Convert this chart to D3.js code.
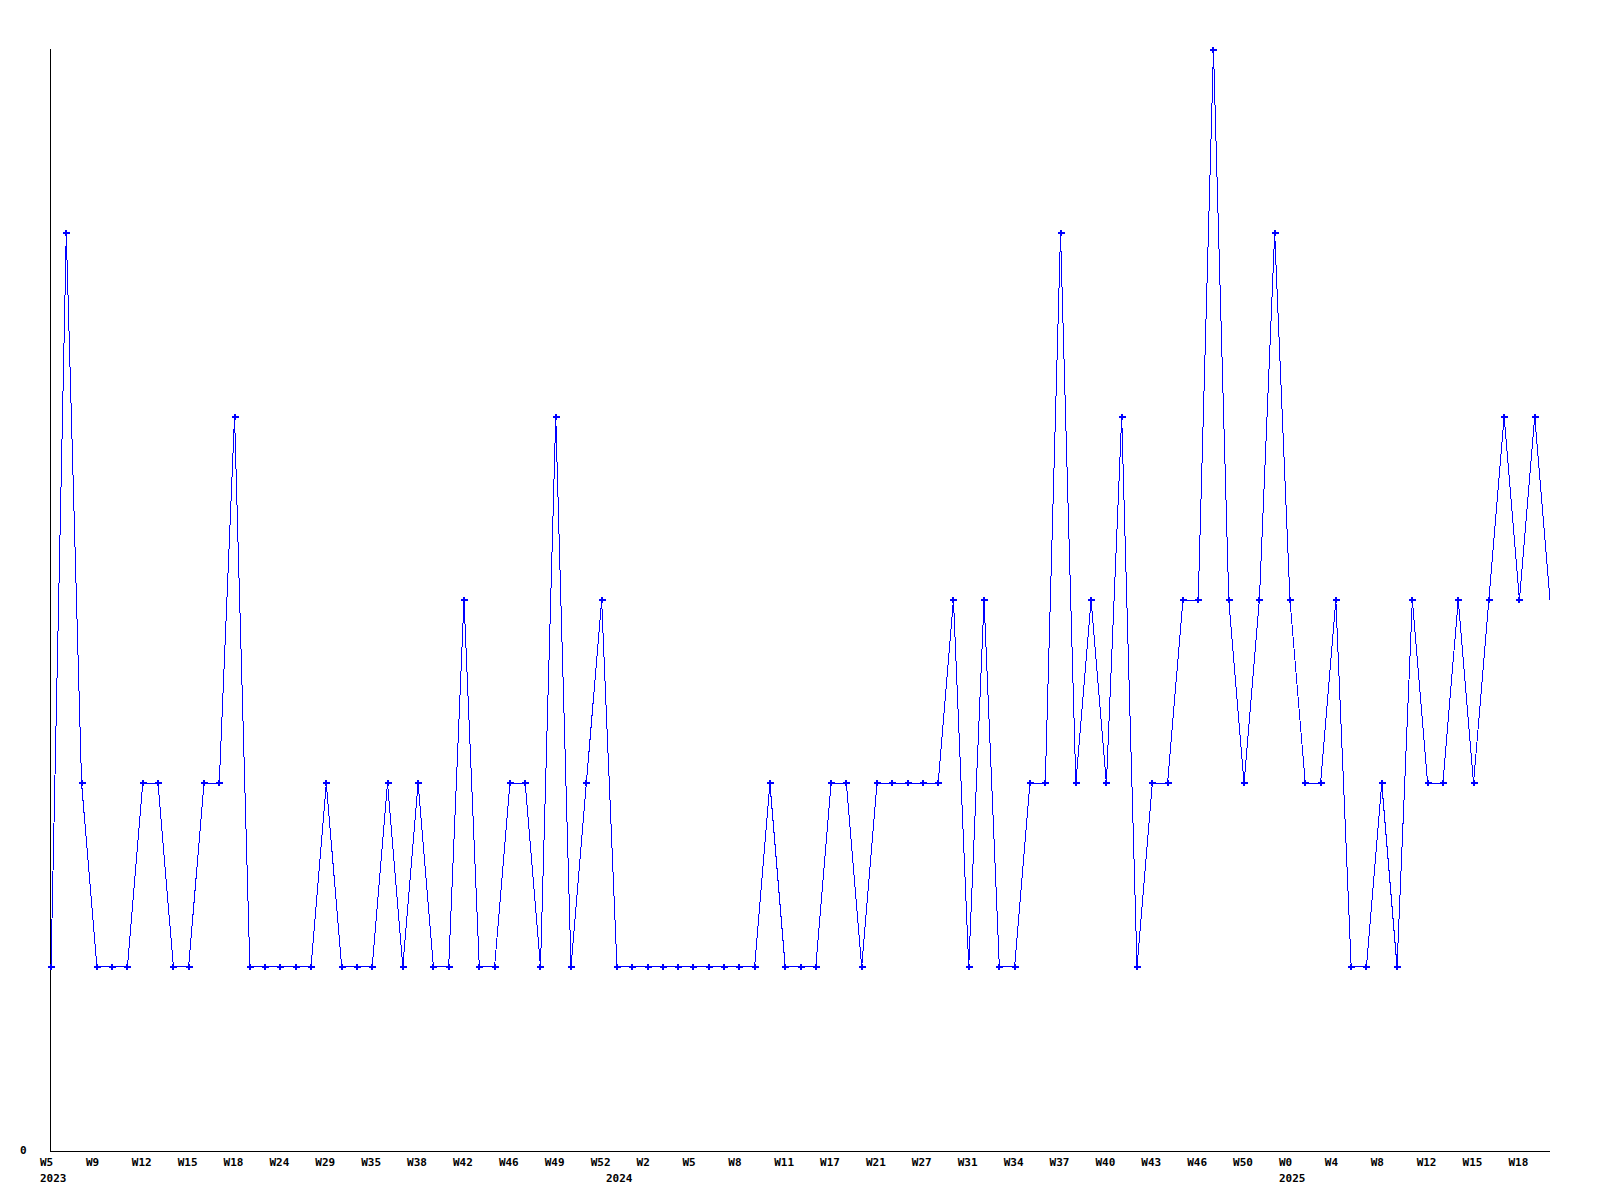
<!DOCTYPE html>
<html>
<head>
<meta charset="utf-8">
<script src="https://cdn.jsdelivr.net/npm/d3@7"></script>
<style>
  html, body { margin: 0; padding: 0; background: #ffffff; }
  svg text { font-family: "DejaVu Sans Mono", "Liberation Mono", monospace; font-weight: bold; font-size: 11px; fill: #000; }
</style>
</head>
<body>
<svg id="chart" width="1600" height="1200"></svg>
<script>
// ---- data ----
const values = [
  1,5,2,1,1,1,2,2,1,1,
  2,2,4,1,1,1,1,1,2,1,
  1,1,2,1,2,1,1,3,1,1,
  2,2,1,4,1,2,3,1,1,1,
  1,1,1,1,1,1,1,2,1,1,
  1,2,2,1,2,2,2,2,2,3,
  1,3,1,1,2,2,5,2,3,2,
  4,1,2,2,3,3,6,3,2,3,
  5,3,2,2,3,1,1,2,1,3,
  2,2,3,2,3,4,3,4,3
];
// one week label for every third sample
const tickLabels = ["W5","W9","W12","W15","W18","W24","W29","W35","W38","W42","W46","W49",
                    "W52","W2","W5","W8","W11","W17","W21","W27","W31","W34","W37","W40",
                    "W43","W46","W50","W0","W4","W8","W12","W15","W18"];
const tickEvery = 3;
const yearLabels = ["2023","2024","2025"];
const yearIndex = [0, 37, 81];
const yTickValues = [0];

// ---- layout ----
const svg = d3.select("#chart");
const x = d3.scaleLinear().domain([0, values.length - 1]).range([51, 1550]);
const y = d3.scaleLinear().domain([0, 6]).range([1150, 50]);

// axes lines
svg.append("line").attr("x1", 50.5).attr("x2", 50.5).attr("y1", 49).attr("y2", 1152)
   .attr("stroke", "#000").attr("stroke-width", 1);
svg.append("line").attr("x1", 50).attr("x2", 1550).attr("y1", 1151.5).attr("y2", 1151.5)
   .attr("stroke", "#000").attr("stroke-width", 1);

// y tick labels
svg.selectAll("text.ytick").data(yTickValues).join("text")
   .attr("class", "ytick")
   .attr("x", 20).attr("y", d => y(d) + 4)
   .text(d => d);

// x tick labels
svg.selectAll("text.xtick").data(tickLabels).join("text")
   .attr("class", "xtick")
   .attr("x", (d, i) => x(i * tickEvery) - 11)
   .attr("y", 1166)
   .text(d => d);

// year labels
svg.selectAll("text.year").data(yearLabels).join("text")
   .attr("class", "year")
   .attr("x", (d, i) => x(yearIndex[i]) - 11)
   .attr("y", 1182)
   .text(d => d);

// line
const line = d3.line().x((d, i) => x(i)).y(d => y(d));
svg.append("path").datum(values)
   .attr("d", line)
   .attr("fill", "none")
   .attr("stroke", "#0000ff")
   .attr("stroke-width", 1)
   .attr("shape-rendering", "crispEdges");

// markers (the last, incomplete sample has none)
const markers = svg.append("g").attr("fill", "#0000ff").attr("shape-rendering", "crispEdges");
values.slice(0, -1).forEach((v, i) => {
  const cx = Math.round(x(i)), cy = Math.round(y(v));
  markers.append("rect").attr("x", cx - 3).attr("y", cy - 1).attr("width", 7).attr("height", 2);
  markers.append("rect").attr("x", cx - 1).attr("y", cy - 3).attr("width", 2).attr("height", 6);
});
</script>
</body>
</html>
